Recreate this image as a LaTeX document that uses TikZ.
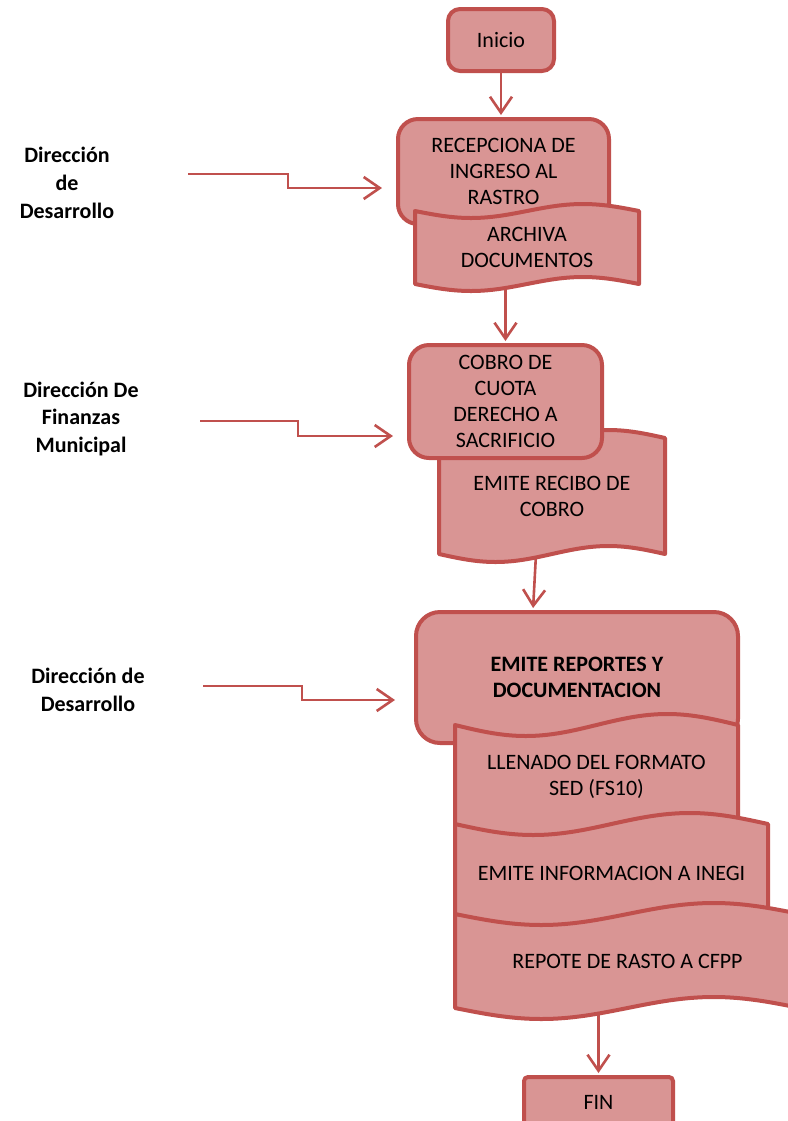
\documentclass[tikz,border=0pt]{standalone}
\usepackage{fontspec}
\setmainfont{Carlito}
\usepackage{tikz}
\usetikzlibrary{
    arrows.meta,
    backgrounds
}
\definecolor{boxRed}{RGB}{192, 80, 77}
\definecolor{boxPink}{RGB}{217, 149, 148}

\tikzset{
    proc/.style={draw=boxRed, fill=boxPink, line width=2pt, rounded corners=10pt,
        align=center, font=\fontsize{11}{13}\selectfont},
    tapeline/.style={draw=boxRed, fill=boxPink, line width=2pt, line join=round},
    tapetext/.style={align=center, font=\fontsize{11}{13}\selectfont},
    area/.style={align=center, font=\bfseries\fontsize{11}{14}\selectfont},
    flow/.style={boxRed, line width=1.3pt, shorten >=1pt,
        -{Straight Barb[length=8pt, width=11pt]}}
}

% punched tape: name, left, top, right, bottom, wave, text
\newcommand{\tape}[7]{%
    \filldraw[tapeline] (#2,#3) sin ({#2+(#4-#2)/4},{#3+#6}) cos ({(#2+#4)/2},#3)
        sin ({#2+3*(#4-#2)/4},{#3-#6}) cos (#4,#3) -- (#4,#5)
        sin ({#2+3*(#4-#2)/4},{#5-#6}) cos ({(#2+#4)/2},#5)
        sin ({#2+(#4-#2)/4},{#5+#6}) cos (#2,#5) -- cycle;
    \node[tapetext] (#1) at ({(#2+#4)/2},{(#3+#5)/2}) {#7};
    \coordinate (#1-bot) at ({(#2+#4)/2},#5);
}

\begin{document}
\begin{tikzpicture}[x=0.5pt, y=-0.5pt]
    \useasboundingbox (0,0) rectangle (788,1121);
    \begin{scope}[on background layer]
        \fill[white] (0,0) rectangle (788,1121);
    \end{scope}
    \clip (0,0) rectangle (788,1121);

    % areas
    \node[area] (dir1) at (67,183) {Dirección\\de\\Desarrollo};
    \node[area] (dir2) at (81,419) {Dirección De\\Finanzas\\Municipal};
    \node[area] (dir3) at (88,690) {Dirección de\\Desarrollo};

    % main column
    \node[proc, rounded corners=6pt, minimum width=53pt, minimum height=31pt]
        (inicio) at (501,40) {Inicio};

    \node[proc, minimum width=105.5pt, minimum height=52.5pt]
        (recep) at (503.5,171.5) {RECEPCIONA DE\\INGRESO AL\\RASTRO};
    \tape{archiva}{415}{211}{639}{284}{7}{ARCHIVA\\DOCUMENTOS}

    % the receipt sits behind the payment box
    \tape{recibo}{439}{438}{665}{554}{8}{EMITE RECIBO DE\\COBRO}
    \node[proc, minimum width=96.5pt, minimum height=56.5pt]
        (cobro) at (505.5,401.5) {COBRO DE\\CUOTA\\DERECHO A\\SACRIFICIO};

    \node[proc, rounded corners=12pt, minimum width=161pt, minimum height=65.5pt,
        font=\bfseries\fontsize{11}{13}\selectfont]
        (reportes) at (577,677.5) {EMITE REPORTES Y\\DOCUMENTACION};
    \tape{llenado}{455}{725}{738}{828}{11}{LLENADO DEL FORMATO\\SED (FS10)}
    \tape{inegi}{455}{824}{768}{922}{11}{EMITE INFORMACION A INEGI}
    \tape{repote}{455}{914}{800}{1008}{11}{REPOTE DE RASTO A CFPP}

    \node[proc, rounded corners=2pt, minimum width=74.5pt, minimum height=25pt]
        (fin) at (598.5,1102) {FIN};

    % flow down the column
    \begin{scope}[on background layer]
        \draw[flow] (inicio.south) -- (inicio.south |- recep.north);
        \draw[flow] (archiva-bot -| cobro.north) -- (cobro.north);
        \draw[flow] ([xshift=-8pt]recibo-bot) -- ([xshift=-22pt]reportes.north);
        \draw[flow] (repote-bot -| fin.north) -- (fin.north);
    \end{scope}

    % inputs from each area
    \coordinate (from1) at (188,174);
    \coordinate (to1) at (384,188);
    \coordinate (from2) at (200,421);
    \coordinate (to2) at (395,436);
    \coordinate (from3) at (203,686);
    \coordinate (to3) at (397,700);
    \draw[flow] (from1) -- ++(100,0) |- (to1);
    \draw[flow] (from2) -- ++(98,0) |- (to2);
    \draw[flow] (from3) -- ++(99,0) |- (to3);
\end{tikzpicture}
\end{document}
